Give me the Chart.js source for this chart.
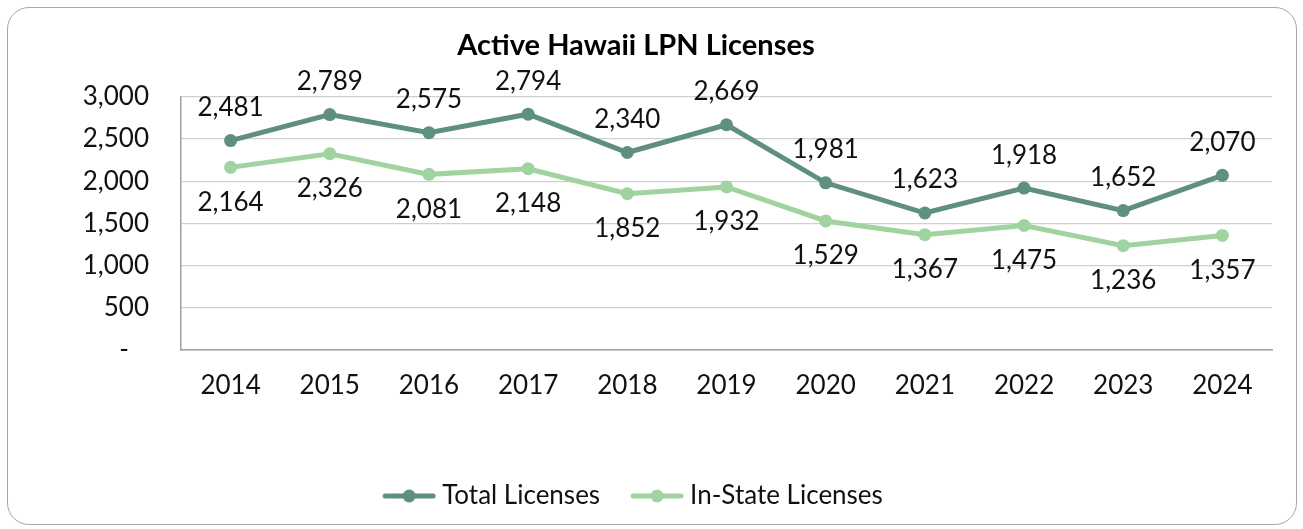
<!DOCTYPE html>
<html><head><meta charset="utf-8">
<script src="https://cdn.jsdelivr.net/npm/chart.js@4/dist/chart.umd.min.js"></script>
<style>
html,body{margin:0;padding:0;background:#fff;}
#frame{position:absolute;left:7px;top:7px;width:1288px;height:516px;border:1.5px solid #a6a6a6;border-radius:22px;}
#wrap{position:absolute;left:0;top:0;width:1303px;height:529px;}
</style></head>
<body>
<div id="frame"></div>
<div id="wrap"><canvas id="c" width="1303" height="529"></canvas></div>
<script>
const years = ['2014','2015','2016','2017','2018','2019','2020','2021','2022','2023','2024'];
const totalLicenses = [2481,2789,2575,2794,2340,2669,1981,1623,1918,1652,2070];
const inStateLicenses = [2164,2326,2081,2148,1852,1932,1529,1367,1475,1236,1357];
const yTicks = [0,500,1000,1500,2000,2500,3000];

const DARK = '#5F8F7D', LIGHT = '#A1D3A0';
const FONT = 'Lato';
const FS = 26;

function legendImg(color){
  const cv = document.createElement('canvas');
  cv.width = 54; cv.height = 16;
  const x = cv.getContext('2d');
  x.strokeStyle = color; x.lineWidth = 5; x.lineCap = 'round';
  x.beginPath(); x.moveTo(3,8); x.lineTo(51,8); x.stroke();
  x.fillStyle = color; x.beginPath(); x.arc(27,8,6.5,0,Math.PI*2); x.fill();
  return cv;
}
const imgs = [legendImg(DARK), legendImg(LIGHT)];

const labelPlugin = {
  id:'vals',
  afterDatasetsDraw(chart){
    const ctx = chart.ctx;
    ctx.save();
    ctx.font = FS + 'px ' + FONT;
    ctx.fillStyle = '#111';
    ctx.textAlign = 'center';
    ctx.textBaseline = 'middle';
    chart.data.datasets.forEach((ds,i)=>{
      const meta = chart.getDatasetMeta(i);
      meta.data.forEach((pt,j)=>{
        const v = ds.data[j];
        const y = i===0 ? pt.y - 33 : pt.y + 35;
        ctx.fillText(v.toLocaleString('en-US'), pt.x, y);
      });
    });
    ctx.restore();
  }
};

new Chart(document.getElementById('c'), {
  type:'line',
  data:{
    labels: years,
    datasets:[
      {label:'Total Licenses', data: totalLicenses, borderColor: DARK, backgroundColor: DARK, borderWidth:5, pointRadius:6.5, pointHoverRadius:6.5, pointBackgroundColor:DARK, pointBorderWidth:0, tension:0},
      {label:'In-State Licenses', data: inStateLicenses, borderColor: LIGHT, backgroundColor: LIGHT, borderWidth:5, pointRadius:6.5, pointHoverRadius:6.5, pointBackgroundColor:LIGHT, pointBorderWidth:0, tension:0}
    ]
  },
  options:{
    responsive:false,
    animation:false,
    layout:{padding:{top:18,right:31,bottom:10,left:0}},
    plugins:{
      title:{display:true, text:'Active Hawaii LPN Licenses', color:'#000', font:{family:FONT, size:29, weight:'bold'}, padding:{top:10,bottom:34}},
      legend:{position:'bottom', labels:{
        color:'#111', font:{family:FONT, size:FS}, usePointStyle:true, pointStyleWidth:40, boxHeight:16, padding:37,
        generateLabels(chart){
          return chart.data.datasets.map((ds,i)=>({text:ds.label, pointStyle:imgs[i], fillStyle:ds.borderColor, strokeStyle:ds.borderColor, lineWidth:0, datasetIndex:i, fontColor:'#111'}));
        }
      }},
      tooltip:{enabled:false}
    },
    scales:{
      x:{
        offset:true,
        grid:{display:false, drawTicks:false},
        border:{display:true, color:'#a0a0a0', width:1.5},
        ticks:{color:'#111', font:{family:FONT, size:FS}, padding:20},
        afterFit(a){ a.height = 96; }
      },
      y:{
        min:0, max:3000,
        afterBuildTicks(a){ a.ticks = yTicks.map(v=>({value:v})); },
        grid:{color:'#d0d0d0', lineWidth:1.2, drawTicks:false},
        border:{display:true, color:'#a0a0a0', width:1.5},
        ticks:{color:'#111', font:{family:FONT, size:FS}, padding:32,
          callback:(v)=> v===0 ? '-   ' : v.toLocaleString('en-US')},
        afterFit(a){ a.width = 181; }
      }
    }
  },
  plugins:[labelPlugin]
});
</script>
</body></html>
